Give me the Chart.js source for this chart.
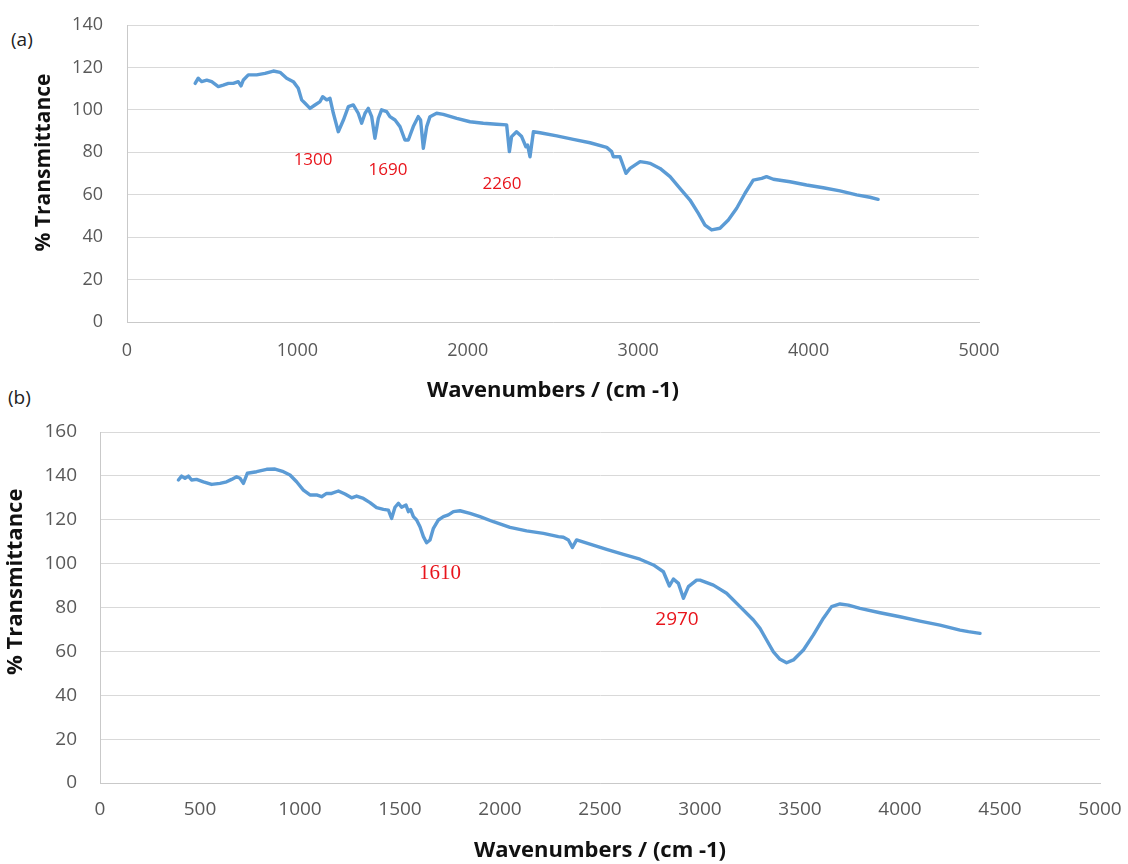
<!DOCTYPE html>
<html>
<head>
<meta charset="utf-8">
<script src="https://cdn.jsdelivr.net/npm/chart.js@4.4.1/dist/chart.umd.min.js"></script>
<style>
  html, body { margin: 0; padding: 0; background: #ffffff; }
  body { width: 1128px; height: 864px; position: relative; overflow: hidden; font-family: "Open Sans", sans-serif; }
  canvas { position: absolute; left: 0; }
  #c1 { top: 0; }
  #c2 { top: 410px; }
  .panel { position: absolute; font-family: "Open Sans", sans-serif; font-size: 19px; color: #222; }
</style>
</head>
<body>
<div class="panel" style="left:11px; top:26px;">(a)</div>
<div class="panel" style="left:8px; top:384px;">(b)</div>
<canvas id="c1" width="1128" height="410"></canvas>
<canvas id="c2" width="1128" height="454"></canvas>
<script>
// ---------- Data: panel (a) ----------
const topWavenumbers = [400,418,438,468,497,536,565,595,624,653,669,683,712,761,810,859,898,937,976,1005,1025,1045,1074,1103,1133,1148,1172,1191,1211,1240,1270,1299,1328,1357,1377,1397,1416,1436,1455,1475,1494,1524,1543,1573,1602,1631,1651,1680,1709,1723,1739,1759,1778,1817,1856,1935,2013,2091,2169,2228,2244,2257,2286,2316,2341,2351,2365,2385,2424,2522,2619,2717,2815,2844,2854,2893,2928,2952,3011,3050,3069,3128,3187,3245,3304,3353,3392,3431,3480,3529,3578,3627,3675,3725,3753,3793,3891,3988,4086,4184,4282,4360,4408];
const topTransmittance = [112.5,114.9,113.3,114.0,113.3,111.0,111.7,112.5,112.5,113.3,111.3,114.1,116.5,116.5,117.2,118.3,117.7,114.9,113.3,110.2,104.7,103.1,100.7,102.3,103.9,106.2,104.7,105.5,98.4,89.7,95.2,101.5,102.3,98.4,93.7,98.4,100.7,96.8,86.6,96.0,100.0,99.2,96.8,95.2,92.1,85.8,85.8,92.1,96.8,95.2,81.9,92.1,96.8,98.4,97.9,96.0,94.4,93.7,93.2,92.9,80.3,87.4,89.7,87.4,82.6,83.4,77.9,89.7,89.2,87.7,86.1,84.5,82.3,80.3,77.9,77.9,70.1,72.4,75.6,75.1,74.8,72.4,68.5,63.0,57.5,51.2,45.7,43.4,44.2,48.1,53.6,60.7,66.9,67.7,68.5,67.3,66.1,64.6,63.3,61.8,59.9,58.8,57.8];
const topXTicks = [0,1000,2000,3000,4000,5000];
const topYTicks = [0,20,40,60,80,100,120,140];
const topNoteText = ["1300","1690","2260"];
const topNoteX = [1092,1532,2201];
const topNoteY = [76.4,71.7,65.1];

// ---------- Data: panel (b) ----------
const bottomWavenumbers = [392,408,425,442,458,483,517,558,600,633,658,683,700,717,737,783,833,875,917,950,983,1017,1050,1083,1108,1133,1158,1192,1225,1258,1283,1317,1350,1383,1417,1442,1458,1475,1492,1508,1530,1542,1553,1567,1583,1600,1617,1633,1650,1667,1692,1717,1742,1767,1800,1850,1900,1967,2050,2133,2217,2292,2317,2342,2362,2383,2450,2533,2617,2700,2767,2817,2847,2867,2892,2917,2942,2983,3000,3067,3133,3200,3267,3300,3333,3367,3400,3433,3467,3517,3567,3617,3658,3700,3742,3800,3900,4000,4100,4200,4300,4342,4400];
const bottomTransmittance = [138.1,139.9,138.9,139.9,138.1,138.4,137.3,136.1,136.6,137.3,138.4,139.6,138.9,136.6,141.2,141.9,143.0,143.1,141.9,140.4,137.3,133.5,131.3,131.3,130.5,132.0,132.0,133.1,131.7,130.0,130.8,129.7,127.8,125.5,124.7,124.4,120.6,125.7,127.5,125.7,126.7,123.7,124.7,121.4,119.9,116.8,112.3,109.5,110.8,116.1,119.9,121.4,122.2,123.7,124.1,122.9,121.4,119.1,116.5,114.9,113.8,112.3,112.0,110.8,107.4,110.8,108.9,106.5,104.2,102.0,99.4,96.3,89.8,93.0,91.0,84.2,89.5,92.5,92.5,90.2,86.5,80.4,74.3,70.5,65.2,59.8,56.4,54.8,56.1,60.6,67.5,75.1,80.4,81.6,81.1,79.6,77.6,75.8,73.8,72.0,69.7,69.0,68.2];
const bottomXTicks = [0,500,1000,1500,2000,2500,3000,3500,4000,4500,5000];
const bottomYTicks = [0,20,40,60,80,100,120,140,160];
const bottomNoteText = ["1610","2970"];
const bottomNoteX = [1700,2885];
const bottomNoteY = [95.7,74.3];

const xTitle = "Wavenumbers / (cm -1)";
const yTitle = "% Transmittance";

// ---------- helpers ----------
const LINE = "#5B9BD5";
const GRID = "#d9d9d9";
const TICK = "#595959";

function zip(xs, ys) { return xs.map((x, i) => ({ x: x, y: ys[i] })); }

function notesPlugin(texts, xs, ys, fonts) {
  return {
    id: "notes",
    afterDatasetsDraw(chart) {
      const ctx = chart.ctx;
      const sx = chart.scales.x, sy = chart.scales.y;
      ctx.save();
      ctx.fillStyle = "#e8141b";
      ctx.textAlign = "center";
      ctx.textBaseline = "middle";
      texts.forEach((t, i) => {
        ctx.font = fonts[i];
        ctx.fillText(t, sx.getPixelForValue(xs[i]), sy.getPixelForValue(ys[i]));
      });
      ctx.restore();
    }
  };
}

function makeChart(id, cfg) {
  return new Chart(document.getElementById(id), {
    type: "line",
    data: { datasets: [{ data: zip(cfg.xs, cfg.ys), borderColor: LINE, borderWidth: 3.4, pointRadius: 0, tension: 0, fill: false, borderJoinStyle: "round", borderCapStyle: "round" }] },
    options: {
      responsive: false, animation: false, devicePixelRatio: 1,
      layout: { padding: cfg.padding },
      plugins: { legend: { display: false }, tooltip: { enabled: false } },
      scales: {
        x: {
          type: "linear", min: cfg.xTicks[0], max: cfg.xTicks[cfg.xTicks.length - 1],
          afterBuildTicks(s) { s.ticks = cfg.xTicks.map(v => ({ value: v })); },
          afterFit(s) { s.height = cfg.xHeight; s.paddingLeft = 0; s.paddingRight = 0; },
          grid: { display: false, drawTicks: false },
          border: { display: true, color: "#c9c9c9", width: 1 },
          ticks: { color: TICK, font: { family: "Open Sans", size: cfg.tickSize }, padding: cfg.xTickPad, maxRotation: 0, autoSkip: false, callback: v => String(v) },
          title: { display: true, text: xTitle, color: "#111", font: { family: "Open Sans", size: cfg.titleSize, weight: "bold" }, padding: { top: 0, bottom: cfg.xTitlePad } }
        },
        y: {
          type: "linear", min: cfg.yTicks[0], max: cfg.yTicks[cfg.yTicks.length - 1],
          afterBuildTicks(s) { s.ticks = cfg.yTicks.map(v => ({ value: v })); },
          afterFit(s) { s.width = cfg.yWidth; s.paddingTop = 0; s.paddingBottom = 0; },
          grid: { color: GRID, lineWidth: 1, drawTicks: false },
          border: { display: true, color: "#c9c9c9", width: 1 },
          ticks: { color: TICK, font: { family: "Open Sans", size: cfg.tickSize }, padding: cfg.yTickPad, autoSkip: false, callback: v => String(v) },
          title: { display: true, text: cfg.yTitleText, color: "#111", font: { family: "Open Sans", size: cfg.yTitleSize, weight: "bold" }, padding: { top: cfg.yTitlePad, bottom: 0 } }
        }
      }
    },
    plugins: [notesPlugin(cfg.notes, cfg.noteX, cfg.noteY, cfg.noteFonts)]
  });
}

makeChart("c1", {
  xs: topWavenumbers, ys: topTransmittance, xTicks: topXTicks, yTicks: topYTicks,
  padding: { left: 0, top: 25, right: 149, bottom: 0 },
  xHeight: 88, yWidth: 127, tickSize: 18, titleSize: 22, yTitleSize: 21,
  xTickPad: 18, yTickPad: 24, xTitlePad: 6, yTitlePad: 31,
  yTitleText: "    " + yTitle,
  notes: topNoteText, noteX: topNoteX, noteY: topNoteY,
  noteFonts: ["17px 'Open Sans'", "17px 'Open Sans'", "17px 'Open Sans'"]
});

makeChart("c2", {
  xs: bottomWavenumbers, ys: bottomTransmittance, xTicks: bottomXTicks, yTicks: bottomYTicks,
  padding: { left: 0, top: 22, right: 28, bottom: 0 },
  xHeight: 81, yWidth: 100, tickSize: 19, titleSize: 22, yTitleSize: 22,
  xTickPad: 15, yTickPad: 23, xTitlePad: 0, yTitlePad: 3,
  yTitleText: "         " + yTitle,
  notes: bottomNoteText, noteX: bottomNoteX, noteY: bottomNoteY,
  noteFonts: ["21px 'Liberation Serif'", "19px 'Open Sans'"]
});
</script>
</body>
</html>
